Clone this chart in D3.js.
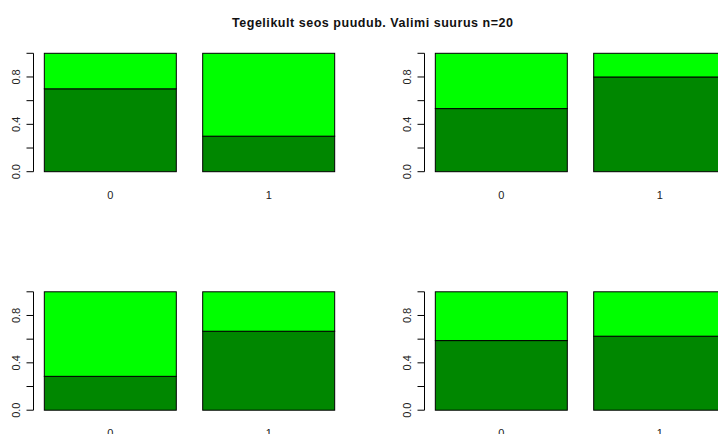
<!DOCTYPE html>
<html><head><meta charset="utf-8">
<script src="https://cdn.jsdelivr.net/npm/d3@7"></script>
<style>body{margin:0;background:#fff;overflow:hidden}svg{display:block}text{font-family:"Liberation Sans",Arial,sans-serif}</style>
</head><body>
<script>
const title = "Tegelikult seos puudub. Valimi suurus n=20";
const categories = ["0", "1"];
// proportion of the dark (lower) segment per bar, for each panel
const panel1 = [0.70, 0.30];
const panel2 = [0.533, 0.80];
const panel3 = [0.286, 0.667];
const panel4 = [0.588, 0.625];
const yTicks = [0, 0.2, 0.4, 0.6, 0.8, 1.0];
const yLabels = [0, 0.4, 0.8];

const panels = [panel1, panel2, panel3, panel4];
const W = 718, H = 434;
const svg = d3.select("body").append("svg").attr("width", W).attr("height", H);

svg.append("text").attr("x", 372.5).attr("y", 26.5).attr("text-anchor", "middle")
  .attr("font-size", "12.5px").attr("font-weight", "bold").attr("fill", "#111")
  .attr("textLength", 281).attr("lengthAdjust", "spacing").text(title);

const colOff = [0, 391], rowOff = [0, 238.5];
const darkCol = "#008700", lightCol = "#00ff00";

panels.forEach((vals, i) => {
  const cx = colOff[i % 2], cy = rowOff[Math.floor(i / 2)];
  const g = svg.append("g").attr("transform", `translate(${cx},${cy})`);
  const x = d3.scaleLinear().domain([0.112, 2.488]).range([32.7, 346.3]);
  const y = d3.scaleLinear().domain([0, 1]).range([171.7, 53.3]);
  const bars = categories.map((c, j) => ({c, left: 0.2 + j * 1.2, v: vals[j]}));

  bars.forEach(b => {
    const x0 = x(b.left), w = x(b.left + 1) - x(b.left);
    g.append("rect").attr("x", x0).attr("y", y(b.v)).attr("width", w).attr("height", y(0) - y(b.v))
      .attr("fill", darkCol).attr("stroke", "#000").attr("stroke-width", 1);
    g.append("rect").attr("x", x0).attr("y", y(1)).attr("width", w).attr("height", y(b.v) - y(1))
      .attr("fill", lightCol).attr("stroke", "#000").attr("stroke-width", 1);
    g.append("text").attr("x", x0 + w / 2).attr("y", y(0) + 27).attr("text-anchor", "middle")
      .attr("font-size", "11px").attr("fill", "#222").text(b.c);
  });

  const ax = 33.5;
  g.append("line").attr("x1", ax).attr("x2", ax).attr("y1", y(0)).attr("y2", y(1)).attr("stroke", "#000");
  yTicks.forEach(t => {
    g.append("line").attr("x1", ax - 7).attr("x2", ax).attr("y1", y(t)).attr("y2", y(t)).attr("stroke", "#000");
  });
  yLabels.forEach(t => {
    g.append("text").attr("transform", `translate(${ax - 13.5},${y(t)}) rotate(-90)`)
      .attr("text-anchor", "middle").attr("font-size", "11px").attr("fill", "#222").text(d3.format(".1f")(t));
  });
});
</script>
</body></html>
